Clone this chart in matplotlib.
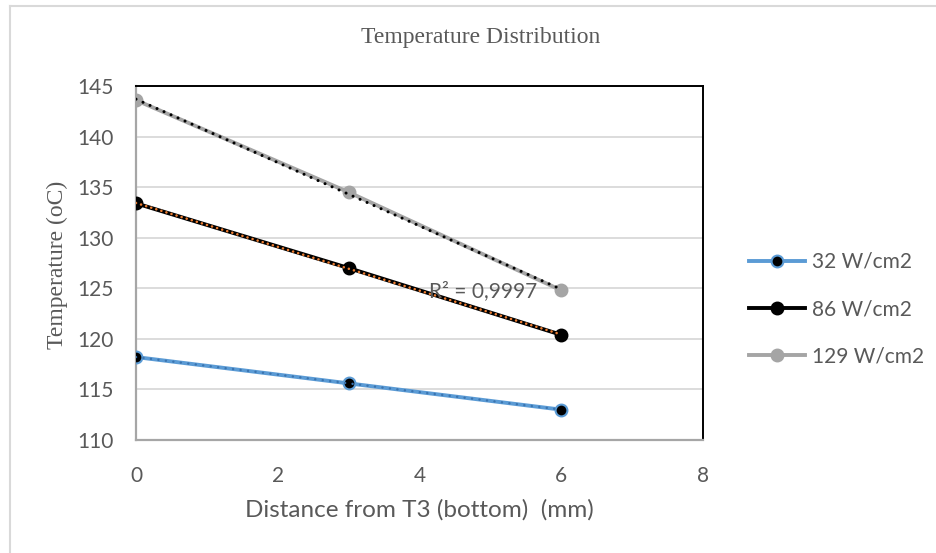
import numpy as np
import matplotlib
matplotlib.use("Agg")
import matplotlib.pyplot as plt
from matplotlib.lines import Line2D

# Measured temperatures along the sample for three heat fluxes
distance_mm = [0, 3, 6]
temp_32 = [118.2, 115.6, 113.0]
temp_86 = [133.4, 127.0, 120.4]
temp_129 = [143.6, 134.5, 124.8]
series_labels = ["32 W/cm2", "86 W/cm2", "129 W/cm2"]
x_ticks = [0, 2, 4, 6, 8]
y_ticks = [110, 115, 120, 125, 130, 135, 140, 145]

SANS = ["Lato", "DejaVu Sans"]
SERIF = ["Liberation Serif", "DejaVu Serif"]
TXT = "#595959"

fig = plt.figure(figsize=(9.36, 5.53), dpi=100)
ax = fig.add_axes([136 / 936, 1 - 440 / 553, 567 / 936, 354 / 553])

x = np.array(distance_mm, dtype=float)

# series: (values, line colour, marker face, marker edge, trendline colour, trend width, trend dash)
styles = [
    (temp_32, "#5b9bd5", "black", "#5b9bd5", "#3a74b0", 1.8, (0, (0.01, 3.0))),
    (temp_86, "black", "black", "black", "#ed7d31", 1.9, (0, (0.01, 2.0))),
    (temp_129, "#a5a5a5", "#a5a5a5", "#a5a5a5", "black", 2.2, (0, (0.01, 2.5))),
]

handles = []
for (vals, lc, mfc, mec, tc, tw, dash), lab in zip(styles, series_labels):
    y = np.array(vals)
    ax.plot(x, y, color=lc, lw=2.8, marker="o", ms=8.5, mfc=mfc, mec=mec,
            mew=1.5, zorder=3, solid_capstyle="round")
    coef = np.polyfit(x, y, 1)
    xt = np.array([x.min(), x.max()])
    ax.plot(xt, np.polyval(coef, xt), color=tc, lw=tw, linestyle=dash,
            dash_capstyle="round", zorder=4)
    handles.append(Line2D([], [], color=lc, lw=2.8, marker="o", ms=8.5,
                          mfc=mfc, mec=mec, mew=1.5))

# coefficient of determination of the 129 W/cm2 linear fit
y = np.array(temp_129)
coef = np.polyfit(x, y, 1)
res = y - np.polyval(coef, x)
r2 = 1 - np.sum(res ** 2) / np.sum((y - y.mean()) ** 2)
ax.text(4.9, 124.7, "R² = " + f"{r2:.4f}".replace(".", ","), ha="center",
        va="center", fontsize=15, color=TXT, family=SANS, zorder=5)

ax.set_xlim(0, 8)
ax.set_ylim(110, 145)
ax.set_xticks(x_ticks)
ax.set_yticks(y_ticks)
ax.tick_params(axis="both", length=0, labelsize=15, labelcolor=TXT)
ax.tick_params(axis="y", pad=16)
ax.tick_params(axis="x", pad=19)
for lbl in ax.get_xticklabels() + ax.get_yticklabels():
    lbl.set_family(SANS)

ax.grid(axis="y", color="#d9d9d9", lw=1.3, zorder=0)
ax.set_axisbelow(True)
for side in ("left", "bottom"):
    ax.spines[side].set_color("#a6a6a6")
    ax.spines[side].set_linewidth(1.6)
for side in ("top", "right"):
    ax.spines[side].set_color("black")
    ax.spines[side].set_linewidth(1.4)

ax.set_xlabel("Distance from T3 (bottom)  (mm)", fontsize=17.5, color=TXT,
              family=SANS, labelpad=9)
fig.text(57 / 936, 1 - 265 / 553, "Temperature (oC)", rotation=90, ha="center",
         va="center", fontsize=17, color=TXT, family=SERIF)
fig.text(481 / 936, 1 - 37 / 553, "Temperature Distribution", ha="center",
         va="center", fontsize=17, color=TXT, family=SERIF)

leg = fig.legend(handles=handles, labels=series_labels, loc="center left",
                 bbox_to_anchor=(739 / 936, 1 - 309 / 553), frameon=False,
                 handlelength=2.65, handletextpad=0.35, labelspacing=1.3,
                 borderpad=0, prop={"family": SANS, "size": 15})
for t in leg.get_texts():
    t.set_color(TXT)

# chart area border (top and left edges)
fig.add_artist(Line2D([10 / 936, 10 / 936], [0, 1 - 6 / 553], color="#d9d9d9",
                      lw=1.5, transform=fig.transFigure))
fig.add_artist(Line2D([10 / 936, 1], [1 - 6 / 553, 1 - 6 / 553], color="#d9d9d9",
                      lw=1.5, transform=fig.transFigure))

fig.savefig("out.png", dpi=100)
